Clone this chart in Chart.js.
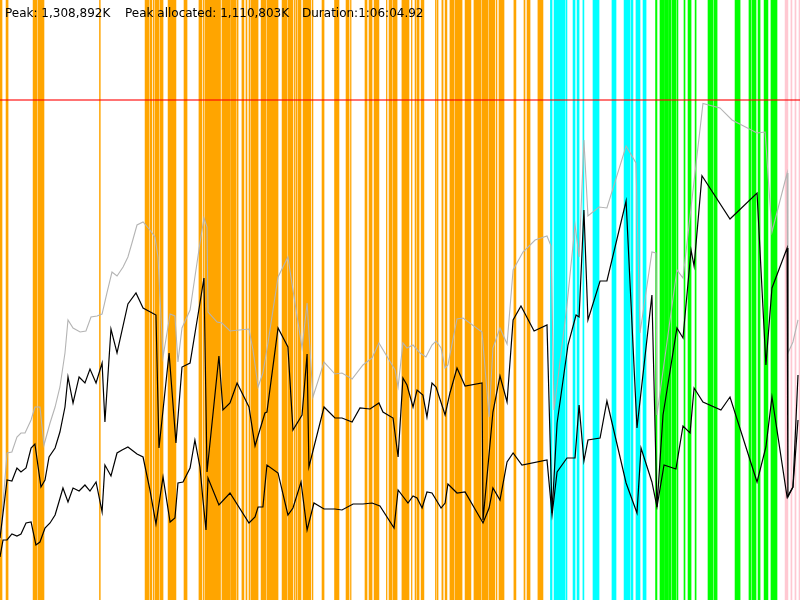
<!DOCTYPE html>
<html>
<head>
<meta charset="utf-8">
<script src="https://cdn.jsdelivr.net/npm/chart.js@4/dist/chart.umd.min.js"></script>
<style>
  html, body { margin: 0; padding: 0; background: #ffffff; }
  #wrap { width: 800px; height: 600px; position: relative; }
</style>
</head>
<body>
<div id="wrap"><canvas id="c" width="800" height="600"></canvas></div>
<script>
// ---- summary values (K) and run duration (s) ----
const peakK = 1308892;
const peakAllocatedK = 1110803;
const durationSec = 3964.92;
const durationLabel = "1:06:04.92";

// ---- series: heap size (grey), allocated (upper black), live (lower black); times in s, values in thousands of K ----
const heapTimes = [0,35,59,84,104,124,154,173,198,218,248,273,297,322,337,362,397,426,451,481,506,530,555,580,610,634,654,679,709,743,768,783,808,843,867,882,902,942,966,991,1011,1026,1031,1076,1100,1140,1234,1254,1279,1303,1328,1378,1427,1452,1497,1522,1551,1606,1660,1695,1745,1799,1844,1878,1958,1973,1997,2017,2047,2082,2111,2141,2161,2186,2206,2220,2265,2295,2389,2424,2443,2478,2513,2543,2592,2652,2711,2731,2746,2810,2850,2870,2894,2914,2969,3008,3103,3152,3172,3231,3251,3256,3355,3385,3484,3568,3628,3752,3792,3826,3901,3905,3930,3955];
const heapValues = [157.1,384.8,387.4,426.7,437.2,437.2,471.2,505.2,505.2,405.8,463.4,505.2,557.6,646.6,733.0,712.0,701.6,704.2,740.8,743.5,748.7,803.7,858.6,848.2,871.7,897.9,934.6,981.7,989.5,968.6,950.3,897.9,636.1,748.7,743.5,623.0,712.0,759.2,845.6,934.6,1000.0,976.4,753.9,727.7,725.1,704.2,709.4,654.5,557.6,594.2,672.8,845.6,897.9,811.5,659.7,777.5,531.4,623.0,591.6,594.2,578.5,615.2,633.5,672.8,602.1,557.6,672.8,659.7,667.5,646.6,636.1,667.5,678.0,659.7,607.3,615.2,735.6,738.2,701.6,479.1,659.7,712.0,670.2,863.9,911.0,942.4,952.9,926.7,497.4,772.3,981.7,897.9,1204.2,1005.2,1028.8,1026.2,1188.5,1144.0,699.0,911.0,908.4,484.3,863.9,842.9,1300.0,1288.0,1256.5,1222.5,1225.1,963.4,1117.8,646.6,675.4,733.0];

const allocTimes = [0,35,59,84,104,129,154,173,203,223,243,273,297,322,337,362,392,421,446,476,506,520,550,580,634,674,709,773,788,838,872,902,942,991,1011,1026,1085,1105,1140,1175,1234,1264,1313,1323,1378,1427,1452,1497,1522,1531,1606,1660,1695,1745,1784,1834,1878,1898,1948,1973,1997,2017,2047,2067,2096,2116,2141,2161,2206,2230,2265,2305,2389,2394,2443,2478,2513,2543,2582,2647,2711,2736,2761,2815,2855,2870,2894,2914,2974,3008,3103,3157,3231,3256,3286,3355,3385,3425,3440,3479,3618,3752,3796,3826,3901,3905,3930,3955];
const allocValues = [162.3,314.1,311.5,345.6,335.1,345.6,397.9,408.4,295.8,314.1,374.3,397.9,439.8,505.2,583.8,515.7,583.8,568.1,604.7,568.1,620.4,466.0,709.4,646.6,774.9,803.7,764.4,746.1,397.9,646.6,411.0,609.9,620.4,777.5,842.9,335.1,638.7,497.4,515.7,568.1,505.2,403.1,489.5,492.1,712.0,662.3,445.0,484.3,644.0,348.2,505.2,476.4,476.4,466.0,502.6,500.0,515.7,492.1,476.4,374.3,581.2,562.8,505.2,549.7,536.6,479.1,568.1,557.6,484.3,541.9,607.3,560.2,568.1,209.4,492.1,586.4,518.3,733.0,769.6,704.2,719.9,227.7,463.4,667.5,746.1,740.8,1020.9,733.0,835.1,835.1,1044.5,450.3,798.4,243.5,484.3,712.0,685.9,916.2,874.3,1110.8,997.4,1065.4,615.2,816.8,921.5,269.6,295.8,589.0];

const liveTimes = [0,15,35,59,84,104,129,154,178,198,223,248,273,292,312,337,362,392,421,446,476,506,520,550,580,605,634,679,709,743,773,808,843,867,882,907,942,966,991,1006,1021,1031,1085,1140,1234,1264,1279,1303,1323,1378,1427,1452,1492,1522,1556,1606,1660,1695,1750,1799,1844,1883,1953,1973,2022,2047,2067,2092,2116,2141,2186,2206,2220,2265,2305,2394,2424,2443,2478,2513,2543,2587,2711,2736,2761,2810,2850,2870,2894,2914,2974,3008,3103,3157,3177,3231,3256,3291,3350,3385,3420,3440,3484,3573,3618,3752,3796,3826,3901,3930,3955];
const liveValues = [112.6,157.1,157.1,172.8,167.5,172.8,201.6,204.2,144.0,151.8,188.5,201.6,222.5,256.5,293.2,256.5,293.2,285.3,301.0,285.3,308.9,230.4,353.4,324.6,384.8,392.7,400.5,382.2,374.3,288.0,199.0,322.0,204.2,214.7,306.3,308.9,345.6,418.8,348.2,261.8,183.2,319.4,248.7,280.1,201.6,217.3,243.5,243.5,353.4,332.5,222.5,240.8,308.9,183.2,253.9,238.2,238.2,235.6,251.3,251.3,253.9,246.1,188.5,288.0,253.9,272.3,267.0,240.8,282.7,280.1,240.8,253.9,303.7,280.1,282.7,201.6,240.8,293.2,261.8,361.3,384.8,353.4,366.5,222.5,335.1,371.7,371.7,510.5,363.9,418.8,424.1,520.9,306.3,227.7,397.9,308.9,243.5,353.4,342.9,455.5,437.2,555.0,518.3,497.4,531.4,308.9,400.5,531.4,269.6,295.8,471.2];

// ---- activity intervals [start s, end s] by phase ----
const orangeSpans = [[0,10],[30,40],[164,183],[188,218],[493,497],[719,738],[743,753],[760,763],[768,788],[793,808],[833,872],[912,927],[986,1001],[1008,1011],[1016,1093],[1100,1140],[1143,1170],[1175,1180],[1199,1209],[1219,1224],[1234,1239],[1244,1279],[1294,1318],[1323,1378],[1398,1422],[1427,1452],[1459,1462],[1467,1472],[1477,1492],[1502,1541],[1548,1551],[1596,1606],[1658,1680],[1715,1730],[1737,1740],[1809,1819],[1829,1844],[1854,1878],[1915,1918],[1928,1943],[1948,1968],[1992,2027],[2039,2042],[2057,2062],[2067,2077],[2087,2101],[2158,2161],[2166,2171],[2190,2196],[2206,2215],[2230,2250],[2255,2290],[2305,2334],[2349,2384],[2389,2419],[2424,2453],[2460,2463],[2473,2498],[2547,2557],[2597,2602],[2612,2627],[2666,2691]];
const cyanSpans = [[2728,2736],[2746,2800],[2805,2810],[2840,2850],[2860,2870],[2889,2894],[2939,2969],[3033,3053],[3093,3122],[3127,3137],[3152,3172],[3187,3202]];
const greenSpans = [[3249,3256],[3271,3290],[3293,3310],[3313,3326],[3331,3350],[3355,3360],[3390,3395],[3410,3425],[3445,3450],[3509,3534],[3539,3554],[3643,3668],[3712,3722],[3727,3747],[3757,3767],[3787,3806],[3821,3851]];
const pinkSpans = [[3891,3905],[3920,3925],[3940,3945],[3960,3965]];

// ---- build library structures ----
const peakThousands = peakK / 1000;
const yTop = peakThousands * 1.2;
const toPoints = (ts, vs) => ts.map((t, i) => ({ x: t, y: vs[i] }));
const toSpans = (spans) => spans.map(s => ({ x: s, y: 'run' }));

function spanSet(spans, color) {
  return {
    type: 'bar', indexAxis: 'y', data: toSpans(spans),
    xAxisID: 'x', yAxisID: 'yc',
    backgroundColor: color, borderWidth: 0,
    grouped: false, categoryPercentage: 1, barPercentage: 1,
    order: 10
  };
}
function lineSet(points, color, width, order) {
  return {
    type: 'line', data: points, xAxisID: 'x', yAxisID: 'y',
    borderColor: color, borderWidth: width, pointRadius: 0,
    tension: 0, fill: false, order: order
  };
}

const fmt = n => n.toLocaleString('en-US');
const headerTexts = [
  'Peak: ' + fmt(peakK) + 'K',
  'Peak allocated: ' + fmt(peakAllocatedK) + 'K',
  'Duration:' + durationLabel
];

const headerPlugin = {
  id: 'header',
  afterDraw(chart) {
    const ctx = chart.ctx;
    ctx.save();
    ctx.font = '12px "DejaVu Sans", sans-serif';
    ctx.fillStyle = '#000000';
    ctx.textBaseline = 'alphabetic';
    const xs = [5, 125, 302];
    headerTexts.forEach((t, i) => ctx.fillText(t, xs[i], 17));
    ctx.restore();
  }
};

new Chart(document.getElementById('c'), {
  type: 'line',
  data: {
    datasets: [
      lineSet(toPoints(liveTimes, liveValues), '#000000', 1.2, 1),
      lineSet(toPoints(allocTimes, allocValues), '#000000', 1.2, 2),
      lineSet(toPoints(heapTimes, heapValues), '#b4b4b4', 1.1, 3),
      lineSet([{ x: 0, y: peakThousands }, { x: durationSec, y: peakThousands }], 'rgba(255,0,0,0.55)', 2, 4),
      spanSet(orangeSpans, '#ffa500'),
      spanSet(cyanSpans, '#00ffff'),
      spanSet(greenSpans, '#00ff00'),
      spanSet(pinkSpans, '#ffc8d2')
    ]
  },
  options: {
    responsive: false,
    animation: false,
    events: [],
    layout: { padding: 0 },
    plugins: { legend: { display: false }, tooltip: { enabled: false }, title: { display: false } },
    scales: {
      x: { type: 'linear', min: 0, max: durationSec, display: false },
      y: { type: 'linear', min: 0, max: yTop, display: false },
      yc: { type: 'category', axis: 'y', labels: ['run'], offset: true, display: false }
    }
  },
  plugins: [headerPlugin]
});
</script>
</body>
</html>
